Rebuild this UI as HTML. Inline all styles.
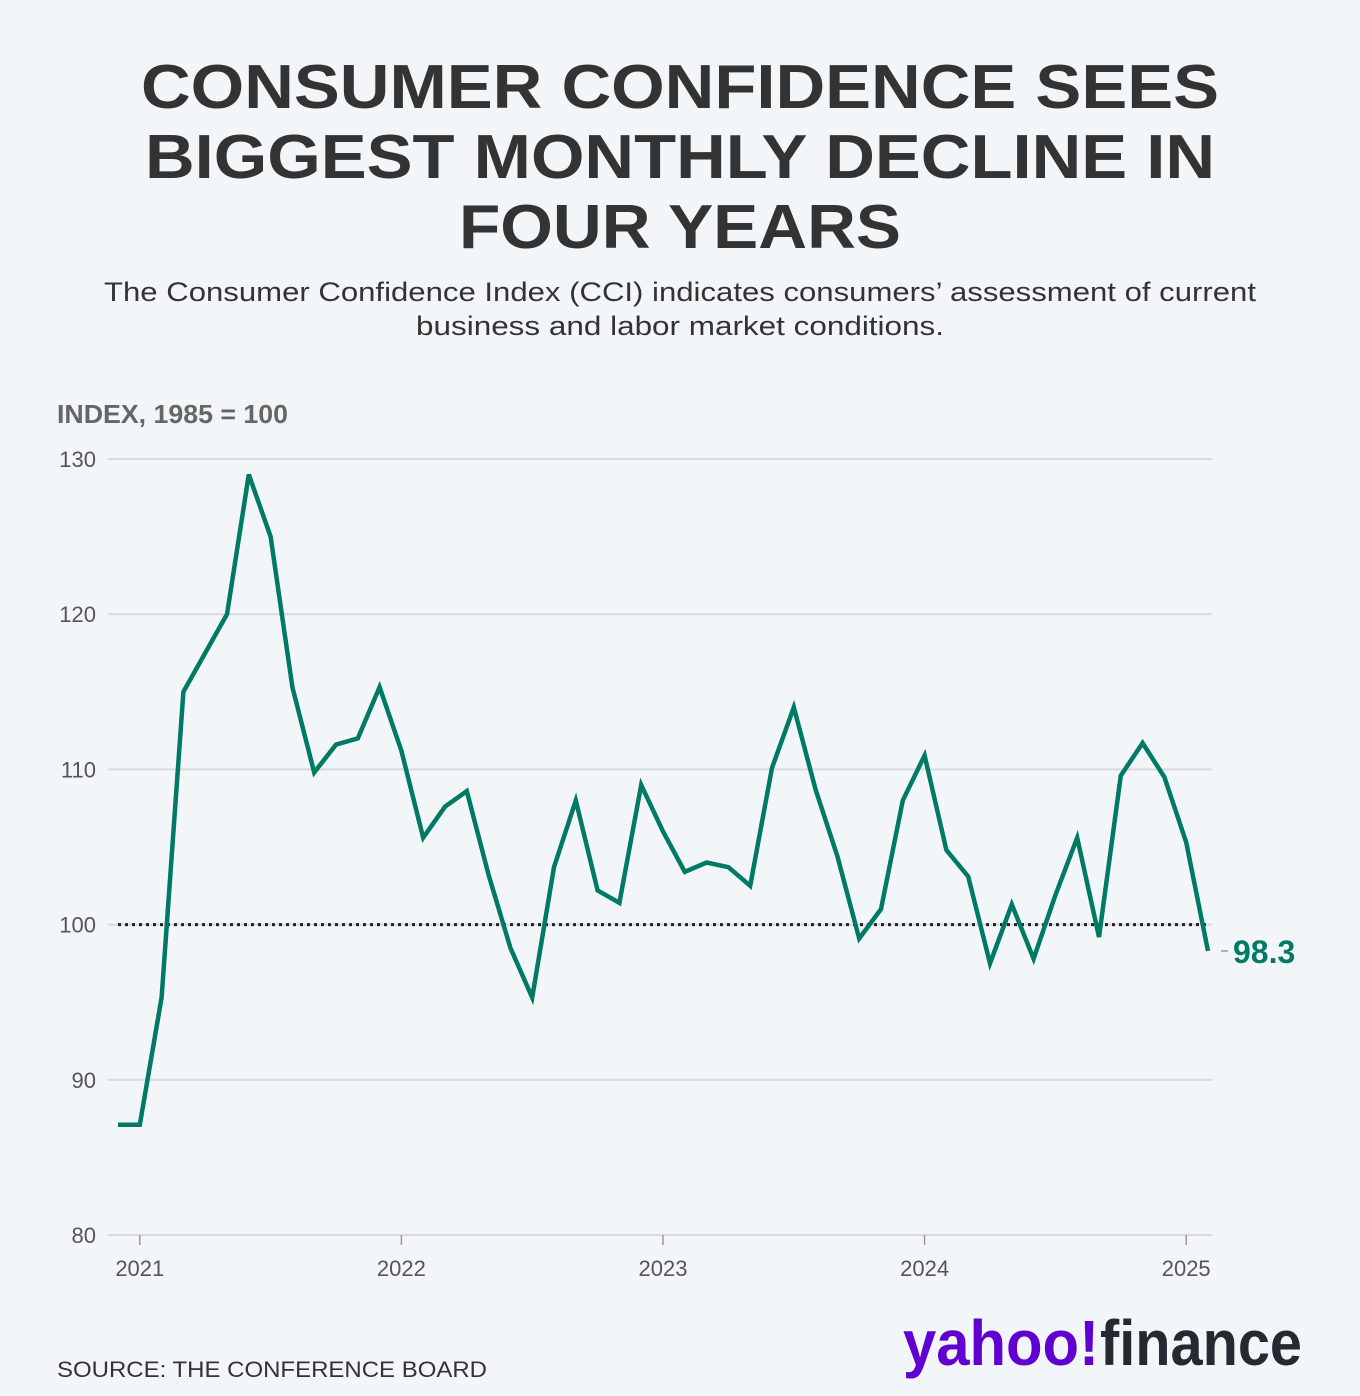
<!DOCTYPE html>
<html><head><meta charset="utf-8"><style>
body{margin:0;background:#f3f6f9;width:1360px;height:1391px;overflow:hidden;font-family:"Liberation Sans",sans-serif;}
</style></head><body>
<svg width="1360" height="1391" viewBox="0 0 1360 1391" xmlns="http://www.w3.org/2000/svg">
<rect width="1360" height="1391" fill="#f3f6f9"/>
<g font-family="Liberation Sans, sans-serif" font-weight="bold" fill="#333" font-size="62" text-anchor="middle">
<text x="680" y="108" textLength="1078" lengthAdjust="spacingAndGlyphs">CONSUMER CONFIDENCE SEES</text>
<text x="680" y="178" textLength="1070" lengthAdjust="spacingAndGlyphs">BIGGEST MONTHLY DECLINE IN</text>
<text x="680" y="248" textLength="442" lengthAdjust="spacingAndGlyphs">FOUR YEARS</text>
</g>
<g font-size="27" fill="#333" text-anchor="middle">
<text x="680" y="301" textLength="1152" lengthAdjust="spacingAndGlyphs">The Consumer Confidence Index (CCI) indicates consumers’ assessment of current</text>
<text x="680" y="335" textLength="528" lengthAdjust="spacingAndGlyphs">business and labor market conditions.</text>
</g>
<text x="57" y="423" font-size="26" font-weight="bold" fill="#666" textLength="231" lengthAdjust="spacingAndGlyphs">INDEX, 1985 = 100</text>
<g id="grid"></g>
<g id="xt"></g>
<g id="plot"></g>
<text x="57" y="1377" font-size="22" fill="#333" textLength="430" lengthAdjust="spacingAndGlyphs">SOURCE: THE CONFERENCE BOARD</text>
<g font-size="64" font-weight="bold">
<text x="903" y="1365" fill="#6001d2" textLength="196" lengthAdjust="spacingAndGlyphs">yahoo!</text>
<text x="1100" y="1365" fill="#232a31" textLength="202" lengthAdjust="spacingAndGlyphs">finance</text>
</g>
</svg>
<script>
const yTicks=[80,90,100,110,120,130];
const xYears=["2021","2022","2023","2024","2025"];
const values=[87.1,87.1,95.3,115,117.5,120,129,125,115.3,109.8,111.6,112,115.3,
111.2,105.6,107.6,108.6,103.2,98.5,95.3,103.7,108,102.2,101.4,109,
106,103.4,104,103.7,102.5,110.1,114,108.7,104.4,99.1,101,108,
110.9,104.8,103.1,97.5,101.3,97.8,101.9,105.6,99.2,109.6,111.7,109.5,
105.3,98.3];
const lastLabel="98.3";
const NS="http://www.w3.org/2000/svg";
const y=v=>1235-(v-80)*15.52;
const x=i=>118+i*21.8; // i = months since Dec 2020
function mk(t,a,p){const e=document.createElementNS(NS,t);for(const k in a)e.setAttribute(k,a[k]);p.appendChild(e);return e;}
const grid=document.getElementById('grid');
yTicks.forEach(v=>{
 const l=mk('line',{x1:108,x2:1212,y1:y(v),y2:y(v),stroke:'#d8dadd','stroke-width':2},grid);
 
 
 const t=mk('text',{x:96,y:y(v)+8,'font-size':22,fill:'#555','text-anchor':'end'},grid);
 t.textContent=v;
 
 
});
const xt=document.getElementById('xt');
xYears.forEach((s,k)=>{
 const xi=x(1+12*k);
 const l=mk('line',{x1:xi,x2:xi,y1:1235,y2:1245,stroke:'#999','stroke-width':1.5},xt);
 
 
 const t=mk('text',{x:xi,y:1276,'font-size':22,fill:'#555','text-anchor':'middle'},xt);
 t.textContent=s;
 
 
});
const plot=document.getElementById('plot');
const ref=mk('line',{x1:118,x2:1210,y1:y(100),y2:y(100),stroke:'#222','stroke-width':3,'stroke-dasharray':'3 4'},plot);


const line=mk('polyline',{points:values.map((v,i)=>x(i)+','+y(v)).join(' '),fill:'none',stroke:'#007a64','stroke-width':4.5,'stroke-linejoin':'miter'},plot);


const n=values.length-1;
const d=mk('line',{x1:x(n)+13,x2:x(n)+20,y1:y(values[n]),y2:y(values[n]),stroke:'#999','stroke-width':1.5},plot);


const lt=mk('text',{x:x(n)+25,y:y(values[n])+12,'font-size':32,'font-weight':'bold',fill:'#007a64'},plot);
lt.textContent=lastLabel;


</script>
</body></html>
